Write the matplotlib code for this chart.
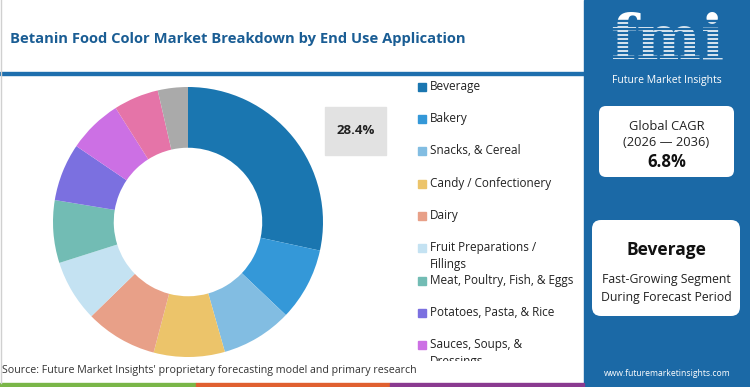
import matplotlib.pyplot as plt
from matplotlib.patches import Rectangle, FancyBboxPatch

segments = ['Beverage', 'Bakery', 'Snacks, & Cereal', 'Candy / Confectionery', 'Dairy',
            'Fruit Preparations /\nFillings', 'Meat, Poultry, Fish, & Eggs', 'Potatoes, Pasta, & Rice',
            'Sauces, Soups, &\nDressings', 'Infant Food', 'Others']
shares = [28.4, 8.7, 8.5, 8.5, 8.6, 7.4, 7.5, 6.9, 6.5, 5.4, 3.6]
colors = ['#1a76b0', '#3498d8', '#82bde2', '#ecc46a', '#e8a088', '#c4e2f2',
          '#72bcb4', '#7b70e0', '#cc70e4', '#e574a8', '#aaaaaa']
cagr = '6.8%'
top_segment = 'Beverage'

plt.rcParams['font.family'] = ['Open Sans', 'DejaVu Sans']
W, H = 750, 387
panel = '#1b69a6'
fig = plt.figure(figsize=(W / 100, H / 100), dpi=100)

# background / decoration axes in pixel coordinates
bg = fig.add_axes([0, 0, 1, 1])
bg.set_xlim(0, W)
bg.set_ylim(H, 0)
bg.axis('off')

bg.plot([0.5, 0.5], [0, 383], color='#d0d0d0', lw=1)
bg.text(10, 39, 'Betanin Food Color Market Breakdown by End Use Application',
        fontsize=10.6, fontweight='bold', color='#1a5d94', va='center', ha='left')
bg.add_patch(Rectangle((0, 71.5), 584, 3.5, color='#1e6fae'))
bg.add_patch(Rectangle((584, 0), W - 584, H, color=panel))

# bottom colour strip
bg.add_patch(Rectangle((0, 383), 196, 4, color='#7ab648'))
bg.add_patch(Rectangle((196, 383), 194, 4, color='#e06030'))
bg.add_patch(Rectangle((390, 383), 194, 4, color='#8a3a90'))

bg.text(2, 371, "Source: Future Market Insights' proprietary forecasting model and primary research",
        fontsize=7.7, color='#333333', va='center', ha='left')

# right panel: striped fmi logo
bg.text(667, 42, 'fmi', fontsize=44, fontweight='bold', family='DejaVu Serif',
        color='white', ha='center', va='center')
for ys in range(20, 68, 4):
    bg.add_patch(Rectangle((600, ys), 135, 0.9, color=panel, zorder=5))
bg.text(667, 80, 'Future Market Insights', fontsize=7.5, color='white', ha='center', va='center')

bg.add_patch(FancyBboxPatch((599, 106), 135, 71, boxstyle='round,pad=0,rounding_size=7',
                            fc='white', ec='none'))
bg.text(666.5, 126, 'Global CAGR', fontsize=9.3, color='#222222', ha='center', va='center')
bg.text(666.5, 143, '(2026 \u2014 2036)', fontsize=9.3, color='#222222', ha='center', va='center')
bg.text(666.5, 162, cagr, fontsize=12, fontweight='bold', color='#111111', ha='center', va='center')

bg.add_patch(FancyBboxPatch((592, 220), 148, 96, boxstyle='round,pad=0,rounding_size=9',
                            fc='white', ec='none'))
bg.text(666, 250, top_segment, fontsize=12.5, fontweight='bold', color='#111111', ha='center', va='center')
bg.text(666, 280, 'Fast-Growing Segment', fontsize=8.8, color='#222222', ha='center', va='center')
bg.text(666, 297, 'During Forecast Period', fontsize=8.8, color='#222222', ha='center', va='center')
bg.text(667, 373, 'www.futuremarketinsights.com', fontsize=6.2, color='white', ha='center', va='center')

# donut
cx, cy, r = 188, 222, 135
ax = fig.add_axes([(cx - r) / W, (H - cy - r) / H, 2 * r / W, 2 * r / H])
ax.pie(shares, colors=colors, startangle=90, counterclock=False,
       wedgeprops=dict(width=0.45, edgecolor='none'))
ax.set_xlim(-1, 1)
ax.set_ylim(-1, 1)
ax.axis('off')

bg.add_patch(Rectangle((325, 107), 61, 48, color='#e2e2e2'))
bg.text(355.5, 131, f'{shares[0]}%', fontsize=9.5, fontweight='bold', color='#222222',
        ha='center', va='center')

# legend, clipped at the bottom like the reference
top, bot = 75, 361
lg = fig.add_axes([400 / W, (H - bot) / H, 184 / W, (bot - top) / H])
lg.set_xlim(400, 584)
lg.set_ylim(bot, top)
lg.axis('off')
rows = [87, 119, 151, 184, 216, 248, 281, 313, 345]
for name, col, y in zip(segments, colors, rows):
    lg.add_patch(Rectangle((418, y - 4), 8, 8, color=col, clip_on=True))
    for k, line in enumerate(name.split('\n')):
        lg.text(430, y + 17 * k, line, fontsize=8.5, color='#222222', ha='left', va='center',
                clip_on=True)

fig.savefig('out.png', dpi=100)
